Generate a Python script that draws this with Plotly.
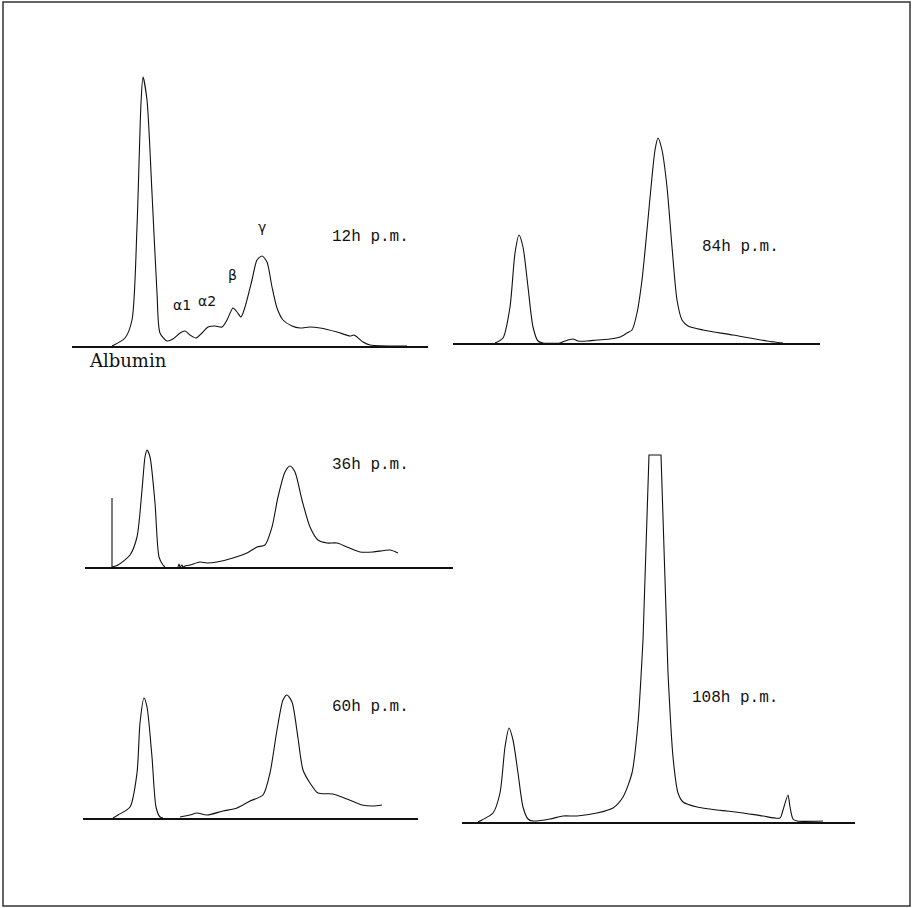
import plotly.graph_objects as go

W, H = 912, 908

# ---- Densitometric traces (x: migration distance, arbitrary units; y: density, arbitrary units)
x_12h = [40, 53, 60, 65, 69, 71, 75, 80, 85, 88, 95, 101, 108, 113, 118, 124, 130, 136, 143, 150,
         155, 161, 165, 169, 173, 180, 185, 190, 195, 200, 205, 211, 220, 228, 238, 248, 265, 278,
         282, 285, 291, 298, 335]
y_12h = [0, 8, 26, 119, 243, 269, 246, 153, 53, 13, 5, 7, 13, 15, 11, 8, 13, 19, 20, 19,
         26, 38, 34, 29, 39, 66, 86, 90, 84, 59, 38, 26, 20, 18, 19, 18, 14, 10,
         11, 9, 4, 1, 0]

x_84h = [42, 50, 57, 62, 66, 70, 75, 80, 85, 90, 107, 112, 120, 125, 134, 144, 157, 167, 174, 179,
         184, 189, 194, 199, 202, 205, 209, 214, 219, 224, 229, 235, 250, 280, 314, 330]
y_84h = [0, 5, 36, 90, 108, 96, 56, 16, 2, 0, 0, 2, 4, 2, 2, 3, 4, 6, 10, 13,
         30, 63, 113, 166, 193, 205, 193, 156, 96, 43, 23, 17, 13, 8, 2, 0]

x_36h = [27, 33, 45, 52, 57, 60, 62, 65, 70, 74, 78, 80, None,
         93, 94, 95, 97, 98, 100, 105, 115, 122, 132, 148, 162, 172, 180, 187, 193, 200, 205, 210,
         217, 225, 233, 242, 252, 262, 275, 288, 305, 313]
y_36h = [0, 2, 12, 30, 77, 110, 117, 110, 64, 10, 2, 0, None,
         0, 3, 0, 2, 0, 1, 2, 5, 4, 5, 9, 14, 20, 22, 40, 70, 95, 101, 95,
         67, 40, 27, 24, 24, 20, 15, 15, 17, 14]
marker_36h_x = [27, 27]
marker_36h_y = [0, 69]

x_60h = [30, 35, 47, 54, 57, 61, 64, 69, 73, 77, 80, None,
         97, 107, 114, 124, 140, 154, 167, 180, 187, 194, 200, 204, 209, 215, 220, 227, 235, 250,
         264, 279, 290, 299]
y_60h = [0, 3, 11, 45, 95, 120, 111, 61, 11, 1, 0, None,
         1, 3, 5, 3, 7, 10, 17, 23, 45, 88, 118, 123, 116, 80, 48, 35, 25, 24,
         19, 13, 12, 13]

# 108h: rising part, off-scale (clipped) top, falling part
x_108h_rise = [16, 20, 31, 38, 43, 47, 51, 56, 61, 66, 71, 88, 101, 115, 135, 151, 161, 170, 176, 181]
y_108h_rise = [0, 2, 9, 29, 75, 94, 82, 49, 15, 3, 1, 3, 6, 6, 9, 14, 25, 49, 99, 182]
x_108h_top = [181, 184, 187, 199, 202, 206]
y_108h_top = [182, 270, 367, 367, 270, 149]
x_108h_fall = [206, 211, 216, 221, 235, 255, 265, 281, 301, 318, 321, 326, 328, 331, 335, 361]
y_108h_fall = [149, 65, 29, 20, 15, 12, 11, 9, 6, 4, 12, 27, 15, 3, 1, 1]

# fraction labels for the 12h trace
frac_labels = ["α1", "α2", "β", "γ"]
frac_x = [110, 135, 160, 190]
frac_y = [41, 45, 71, 119]

time_labels = ["12h p.m.", "84h p.m.", "36h p.m.", "60h p.m.", "108h p.m."]

# ---- panel geometry in page pixels: (left, right, top, baseline)
panels = [
    dict(px=(72, 428, 60, 346), segs=[(x_12h, y_12h, "spline")], label=(298, 109)),
    dict(px=(453, 820, 120, 343), segs=[(x_84h, y_84h, "spline")], label=(287, 96)),
    dict(px=(85, 453, 430, 567), segs=[(x_36h, y_36h, "spline"),
                                       (marker_36h_x, marker_36h_y, "linear")], label=(285, 102)),
    dict(px=(83, 418, 680, 818), segs=[(x_60h, y_60h, "spline")], label=(287, 111)),
    dict(px=(462, 855, 440, 822), segs=[(x_108h_rise, y_108h_rise, "spline"),
                                        (x_108h_top, y_108h_top, "linear"),
                                        (x_108h_fall, y_108h_fall, "spline")], label=(273, 124)),
]

fig = go.Figure()
LINE = "#111111"
MONO = "Liberation Mono"

for i, (p, lab) in enumerate(zip(panels, time_labels)):
    n = "" if i == 0 else str(i + 1)
    l, r, t, b = p["px"]
    for xs, ys, shp in p["segs"]:
        fig.add_trace(go.Scatter(
            x=xs, y=ys, mode="lines",
            line=dict(color=LINE, width=1.1, shape=shp, smoothing=0.7),
            xaxis="x" + n, yaxis="y" + n, hoverinfo="skip", showlegend=False,
            connectgaps=False, cliponaxis=False,
        ))
    fig.layout["xaxis" + n] = dict(
        domain=[l / W, r / W], range=[0, r - l], showline=True, linecolor=LINE, linewidth=1.5,
        showgrid=False, zeroline=False, showticklabels=False, ticks="", fixedrange=True,
        anchor="y" + n,
    )
    fig.layout["yaxis" + n] = dict(
        domain=[1 - b / H, 1 - t / H], range=[0, b - t], visible=False,
        showgrid=False, zeroline=False, fixedrange=True, anchor="x" + n,
    )
    fig.add_annotation(
        x=p["label"][0], y=p["label"][1], xref="x" + n, yref="y" + n, text=lab,
        showarrow=False, font=dict(family=MONO, size=16, color=LINE),
    )

for t, xx, yy in zip(frac_labels, frac_x, frac_y):
    fig.add_annotation(x=xx, y=yy, xref="x", yref="y", text=t, showarrow=False,
                       font=dict(family="DejaVu Sans", size=14, color=LINE))

fig.add_annotation(x=127.5 / W, y=1 - 360 / H, xref="paper", yref="paper", text="Albumin",
                   xanchor="center", yanchor="middle", showarrow=False,
                   font=dict(family="DejaVu Serif", size=18, color=LINE))

# page frame
fig.add_shape(type="rect", xref="paper", yref="paper",
              x0=3 / W, x1=910 / W, y0=1 - 906 / H, y1=1 - 2 / H,
              line=dict(color="#333333", width=1.5))

fig.update_layout(
    width=W, height=H, margin=dict(l=0, r=0, t=0, b=0),
    paper_bgcolor="white", plot_bgcolor="white", showlegend=False,
)

fig.write_html("out.html", config={"displayModeBar": False},
               post_script="document.body.style.margin='0';")
